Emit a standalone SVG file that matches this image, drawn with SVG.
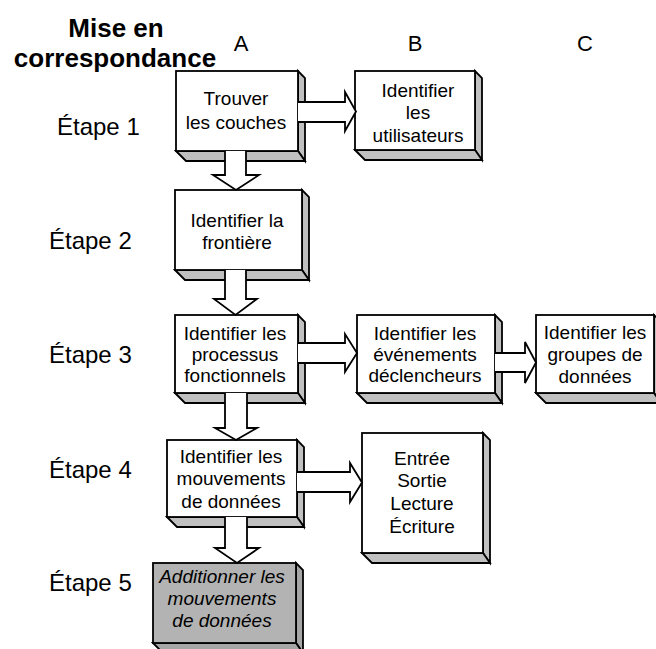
<svg xmlns="http://www.w3.org/2000/svg" width="656" height="649" viewBox="0 0 656 649">
  <style>
    .front { fill: #ffffff; stroke: #000; stroke-width: 1.8; stroke-linejoin: miter; }
    .front.dark { fill: #b3b3b3; }
    .depth { fill: #c0c0c0; stroke: #000; stroke-width: 1.8; stroke-linejoin: miter; }
    .depth.dark { fill: #a6a6a6; }
    .arrow { fill: #ffffff; stroke: #000; stroke-width: 1.8; stroke-linejoin: miter; }
    .label { font-family: "Liberation Sans", Arial, sans-serif; font-size: 19px; fill: #000; text-anchor: middle; }
    .label.it { font-style: italic; }
    .step { font-family: "Liberation Sans", Arial, sans-serif; font-size: 24px; fill: #000; }
    .col { font-family: "Liberation Sans", Arial, sans-serif; font-size: 22px; fill: #000; text-anchor: middle; }
    .title { font-family: "Liberation Sans", Arial, sans-serif; font-size: 26px; font-weight: bold; fill: #000; text-anchor: middle; }
  </style>

  <!-- headings -->
  <g id="heading">
    <text class="title" x="116" y="37">Mise en</text>
    <text class="title" x="115" y="67">correspondance</text>
    <text class="col" x="241" y="51">A</text>
    <text class="col" x="415" y="51">B</text>
    <text class="col" x="585" y="51">C</text>
  </g>

  <!-- step labels -->
  <g id="steps">
    <text class="step" x="57" y="135">Étape 1</text>
    <text class="step" x="49" y="249">Étape 2</text>
    <text class="step" x="49" y="363">Étape 3</text>
    <text class="step" x="49" y="478">Étape 4</text>
    <text class="step" x="49" y="591">Étape 5</text>
  </g>

  <!-- boxes: front face with a right side and a bottom face -->
  <g id="a1">
    <polygon class="depth" points="298,71 305,78 305,161 298,151"/>
    <polygon class="depth" points="176,151 186,161 305,161 298,151"/>
    <rect class="front" x="176" y="71" width="122" height="80"/>
    <text class="label" x="236" y="105">Trouver</text>
    <text class="label" x="236" y="129">les couches</text>
  </g>

  <g id="b1">
    <polygon class="depth" points="475,71 482,78 482,160 475,150"/>
    <polygon class="depth" points="355,150 365,160 482,160 475,150"/>
    <rect class="front" x="355" y="71" width="120" height="79"/>
    <text class="label" x="418" y="97">Identifier</text>
    <text class="label" x="418" y="119">les</text>
    <text class="label" x="418" y="142">utilisateurs</text>
  </g>

  <g id="a2">
    <polygon class="depth" points="302,190 309,197 309,280 302,270"/>
    <polygon class="depth" points="175,270 185,280 309,280 302,270"/>
    <rect class="front" x="175" y="190" width="127" height="80"/>
    <text class="label" x="237" y="227">Identifier la</text>
    <text class="label" x="237" y="249">frontière</text>
  </g>

  <g id="a3">
    <polygon class="depth" points="298,315 305,322 305,403 298,393"/>
    <polygon class="depth" points="175,393 185,403 305,403 298,393"/>
    <rect class="front" x="175" y="315" width="123" height="78"/>
    <text class="label" x="235" y="340">Identifier les</text>
    <text class="label" x="235" y="361">processus</text>
    <text class="label" x="235" y="382">fonctionnels</text>
  </g>

  <g id="b3">
    <polygon class="depth" points="495,315 502,322 502,403 495,393"/>
    <polygon class="depth" points="357,393 367,403 502,403 495,393"/>
    <rect class="front" x="357" y="315" width="138" height="78"/>
    <text class="label" x="425" y="340">Identifier les</text>
    <text class="label" x="425" y="361">événements</text>
    <text class="label" x="425" y="382">déclencheurs</text>
  </g>

  <g id="c3">
    <polygon class="depth" points="654,315 661,322 661,403 654,393"/>
    <polygon class="depth" points="536,393 546,403 661,403 654,393"/>
    <rect class="front" x="536" y="315" width="118" height="78"/>
    <text class="label" x="595" y="339">Identifier les</text>
    <text class="label" x="595" y="361">groupes de</text>
    <text class="label" x="595" y="383">données</text>
  </g>

  <g id="a4">
    <polygon class="depth" points="297,440 304,447 304,527 297,517"/>
    <polygon class="depth" points="167,517 177,527 304,527 297,517"/>
    <rect class="front" x="167" y="440" width="130" height="77"/>
    <text class="label" x="231" y="463">Identifier les</text>
    <text class="label" x="231" y="485">mouvements</text>
    <text class="label" x="231" y="508">de données</text>
  </g>

  <g id="b4">
    <polygon class="depth" points="483,433 490,440 490,563 483,553"/>
    <polygon class="depth" points="362,553 372,563 490,563 483,553"/>
    <rect class="front" x="362" y="433" width="121" height="120"/>
    <text class="label" x="422" y="465">Entrée</text>
    <text class="label" x="422" y="487">Sortie</text>
    <text class="label" x="422" y="510">Lecture</text>
    <text class="label" x="422" y="533">Écriture</text>
  </g>

  <g id="a5">
    <polygon class="depth dark" points="296,563 303,570 303,653 296,643"/>
    <polygon class="depth dark" points="153,643 163,653 303,653 296,643"/>
    <rect class="front dark" x="153" y="563" width="143" height="80"/>
    <text class="label it" x="222" y="583">Additionner les</text>
    <text class="label it" x="222" y="605">mouvements</text>
    <text class="label it" x="222" y="627">de données</text>
  </g>

  <!-- block arrows, open at the tail so they merge into the source box -->
  <g id="connectors">
    <path class="arrow" d="M298,102 H345 V92 L356,111.5 L345,131 V122 H298"/>
    <path class="arrow" d="M225,151 V175 H213 L236,190 L259,175 H246 V151"/>
    <path class="arrow" d="M225,270 V299 H214 L235.5,315 L257,299 H246 V270"/>
    <path class="arrow" d="M298,343 H345 V334 L357,353 L345,372 V363 H298"/>
    <path class="arrow" d="M495,353 H525 V342 L536,362.5 L525,383 V372 H495"/>
    <path class="arrow" d="M225,393 V428 H215 L236,440 L257,428 H247 V393"/>
    <path class="arrow" d="M297,472 H350 V463 L362,482.5 L350,502 V492 H297"/>
    <path class="arrow" d="M225,517 V548 H215 L237,563 L259,548 H247 V517"/>
  </g>
</svg>
